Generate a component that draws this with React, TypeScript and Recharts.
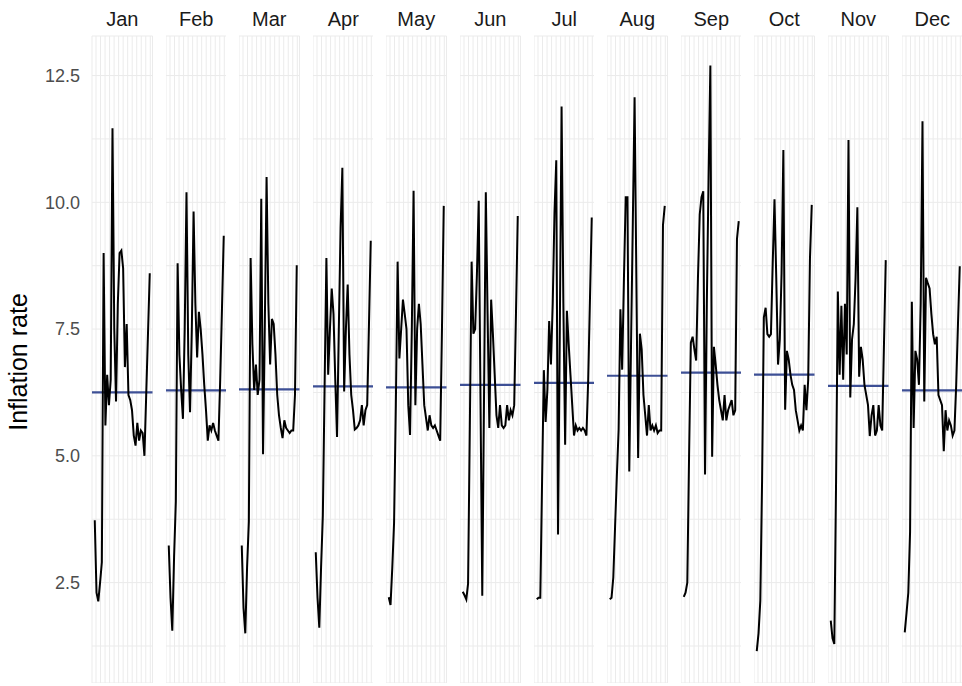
import React from 'react';
import { LineChart, Line, XAxis, YAxis, CartesianGrid, ReferenceLine } from 'recharts';

const months = ['Jan', 'Feb', 'Mar', 'Apr', 'May', 'Jun', 'Jul', 'Aug', 'Sep', 'Oct', 'Nov', 'Dec'];

const years = [
  1992, 1993, 1994, 1995, 1996, 1997, 1998, 1999, 2000, 2001, 2002, 2003, 2004, 2005, 2006, 2007,
  2008, 2009, 2010, 2011, 2012, 2013, 2014, 2015, 2016, 2017, 2018, 2019, 2020, 2021, 2022, 2023,
];

const janValues = [3.73, 2.3, 2.13, 2.5, 2.9, 9.0, 5.6, 6.6, 6.0, 6.5, 11.46, 7.5, 6.07, 8.0, 9.0, 9.05, 8.7, 6.75, 7.6, 6.2, 6.1, 5.9, 5.4, 5.2, 5.65, 5.3, 5.5, 5.45, 5.0, 6.2, 7.4, 8.6];
const febValues = [3.23, 2.2, 1.55, 3.0, 4.1, 8.8, 7.0, 6.3, 5.73, 7.5, 10.2, 7.0, 5.86, 7.5, 9.82, 8.0, 6.94, 7.84, 7.5, 7.0, 6.4, 5.9, 5.3, 5.6, 5.5, 5.65, 5.5, 5.4, 5.3, 6.5, 7.9, 9.34];
const marValues = [3.23, 2.0, 1.5, 2.8, 3.7, 8.9, 7.2, 6.3, 6.8, 6.2, 6.5, 10.07, 5.03, 7.6, 10.5, 8.0, 6.8, 7.7, 7.6, 7.0, 6.2, 5.8, 5.55, 5.35, 5.7, 5.55, 5.5, 5.45, 5.5, 5.5, 6.2, 8.76];
const aprValues = [3.1, 2.2, 1.61, 2.8, 3.83, 6.4, 8.9, 6.6, 7.5, 8.3, 7.8, 6.5, 5.37, 7.5, 9.5, 10.68, 6.27, 7.5, 8.38, 7.0, 6.2, 5.9, 5.52, 5.55, 5.6, 5.7, 6.0, 5.6, 5.9, 6.0, 7.6, 9.24];
const mayValues = [2.21, 2.06, 2.8, 3.68, 6.0, 8.83, 6.92, 7.5, 8.08, 7.8, 7.5, 6.0, 5.41, 7.5, 10.23, 6.0, 7.5, 8.0, 7.6, 6.8, 6.0, 5.75, 5.5, 5.8, 5.6, 5.55, 5.6, 5.5, 5.4, 5.3, 7.5, 9.93];
const junValues = [2.32, 2.25, 2.17, 2.48, 5.6, 8.83, 7.41, 7.5, 8.6, 10.03, 6.1, 2.24, 6.2, 10.2, 7.8, 5.55, 8.08, 7.4, 6.6, 5.8, 5.55, 6.0, 5.6, 5.55, 5.6, 6.0, 5.7, 5.9, 5.8, 6.0, 7.8, 9.73];
const julValues = [2.17, 2.2, 2.2, 4.5, 6.69, 5.67, 6.3, 7.66, 6.8, 8.0, 9.8, 10.83, 3.45, 7.5, 11.89, 8.0, 5.22, 7.86, 7.2, 6.6, 6.0, 5.4, 5.6, 5.5, 5.55, 5.5, 5.55, 5.5, 5.4, 6.5, 8.1, 9.7];
const augValues = [2.17, 2.2, 2.6, 3.6, 4.6, 5.52, 7.89, 6.7, 8.5, 10.1, 10.1, 4.69, 7.2, 9.6, 12.07, 8.5, 4.96, 7.41, 7.1, 6.2, 5.8, 5.4, 6.0, 5.5, 5.6, 5.5, 5.6, 5.45, 5.5, 5.5, 9.55, 9.93];
const sepValues = [2.22, 2.3, 2.5, 5.0, 7.23, 7.35, 7.1, 6.88, 8.5, 9.76, 10.1, 10.22, 4.63, 8.0, 10.5, 12.7, 4.98, 7.15, 6.8, 6.4, 6.1, 5.9, 5.7, 6.2, 5.7, 5.9, 6.0, 6.1, 5.8, 5.9, 9.28, 9.63];
const octValues = [1.15, 1.5, 2.14, 4.5, 7.73, 7.92, 7.4, 7.35, 7.4, 8.8, 10.06, 8.5, 6.8, 7.3, 8.6, 11.03, 5.91, 7.07, 6.9, 6.6, 6.4, 6.3, 5.9, 5.7, 5.5, 5.6, 5.5, 6.4, 5.9, 6.5, 8.9, 9.95];
const novValues = [1.75, 1.4, 1.29, 4.5, 8.24, 6.6, 7.96, 6.5, 8.0, 7.0, 11.23, 6.15, 7.3, 7.6, 8.5, 9.9, 6.56, 7.15, 6.9, 6.4, 6.2, 6.0, 5.39, 5.8, 6.0, 5.4, 5.5, 6.0, 5.6, 5.5, 7.2, 8.86];
const decValues = [1.52, 1.9, 2.3, 3.5, 8.04, 5.55, 7.07, 6.9, 6.4, 8.0, 11.6, 6.07, 8.51, 8.4, 8.3, 7.8, 7.4, 7.2, 7.35, 6.2, 6.1, 6.0, 5.09, 5.9, 5.5, 5.7, 5.6, 5.4, 5.5, 6.4, 7.6, 8.74];

const monthMeans = [6.25, 6.29, 6.31, 6.37, 6.35, 6.4, 6.44, 6.58, 6.64, 6.6, 6.38, 6.29];

const yGridTicks = [1.25, 2.5, 3.75, 5, 6.25, 7.5, 8.75, 10, 11.25, 12.5];
const yLabelTicks = [2.5, 5, 7.5, 10, 12.5];
const xGridYears = [1992.7, 1995.25, 1997.8, 2000.35, 2002.9, 2005.45, 2008, 2010.55, 2013.1, 2015.65, 2018.2, 2020.75, 2023.3];

const series = [janValues, febValues, marValues, aprValues, mayValues, junValues, julValues, augValues, sepValues, octValues, novValues, decValues];

const FONT = '"Liberation Sans", Arial, Helvetica, sans-serif';
const PANEL_LEFT = 92;
const PANEL_W = 60.5;
const STRIDE = 73.6;
const TOP = 36;
const BOTTOM = 683;
const Y_DOMAIN: [number, number] = [0.52, 13.28];
const X_DOMAIN: [number, number] = [1990.45, 2024.55];

const EmptyTick = () => <g />;

function Panel({ idx }: { idx: number }) {
  const first = idx === 0;
  const axisW = first ? PANEL_LEFT : 0;
  const left = first ? 0 : PANEL_LEFT + idx * STRIDE;
  const data = years.map((y, i) => ({ year: y, value: series[idx][i] }));
  const stripLabel = () => (
    <text
      x={axisW + PANEL_W / 2}
      y={26}
      textAnchor="middle"
      fontFamily={FONT}
      fontSize={20}
      fill="#1a1a1a"
    >
      {months[idx]}
    </text>
  );
  const yTitle = () => (
    <text
      x={27}
      y={362}
      transform="rotate(-90, 27, 362)"
      textAnchor="middle"
      fontFamily={FONT}
      fontSize={25}
      fill="#000"
    >
      Inflation rate
    </text>
  );
  return (
    <div style={{ position: 'absolute', left, top: 0 }}>
      <LineChart
        width={axisW + PANEL_W}
        height={BOTTOM}
        data={data}
        margin={{ top: 0, right: 0, bottom: 0, left: 0 }}
      >
        <CartesianGrid stroke="#ebebeb" strokeWidth={1} />
        <XAxis
          dataKey="year"
          type="number"
          orientation="top"
          height={TOP}
          domain={X_DOMAIN}
          ticks={xGridYears}
          interval={0}
          allowDataOverflow
          tick={<EmptyTick />}
          tickLine={false}
          axisLine={false}
          label={stripLabel}
        />
        <YAxis
          type="number"
          domain={Y_DOMAIN}
          ticks={yGridTicks}
          interval={0}
          allowDataOverflow
          width={axisW}
          axisLine={false}
          tickLine={false}
          tickSize={0}
          tickMargin={12}
          tick={first ? { fontSize: 18, fill: '#4d4d4d', fontFamily: FONT } : <EmptyTick />}
          tickFormatter={(v: number) => (yLabelTicks.includes(v) ? v.toFixed(1) : '')}
          label={first ? yTitle : undefined}
        />
        <ReferenceLine y={monthMeans[idx]} stroke="#3d4f95" strokeWidth={2.2} />
        <Line
          type="linear"
          dataKey="value"
          stroke="#000000"
          strokeWidth={2}
          dot={false}
          activeDot={false}
          isAnimationActive={false}
        />
      </LineChart>
    </div>
  );
}

export default function App() {
  return (
    <div style={{ position: 'absolute', left: 0, top: 0, width: 962, height: 686, background: '#fff' }}>
      {months.map((m, i) => (
        <Panel key={m} idx={i} />
      ))}
    </div>
  );
}
